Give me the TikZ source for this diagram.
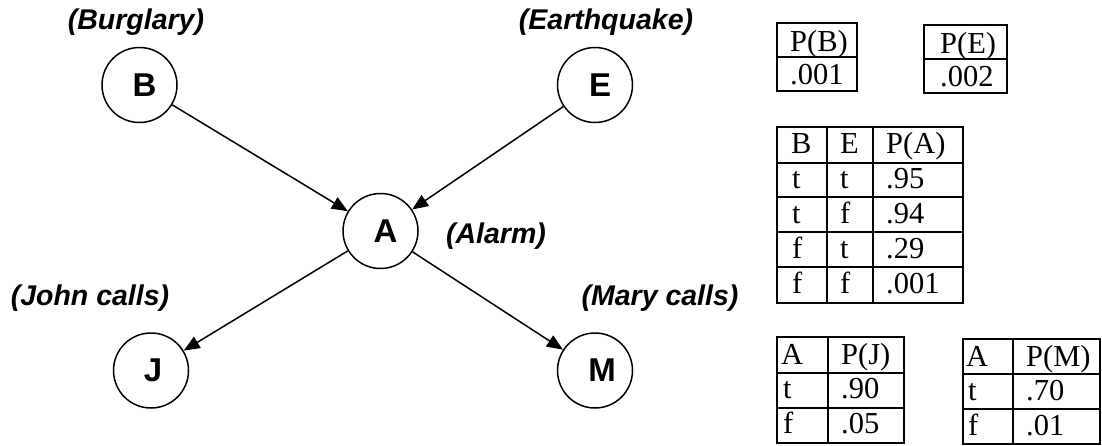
\documentclass[tikz,border=0pt]{standalone}
\usepackage{fontspec}
\setmainfont{Liberation Serif}
\newfontfamily\arial{Liberation Sans}
\usetikzlibrary{arrows.meta}
\newcommand\nodetext[2][10pt]{\hspace*{#1}\raisebox{-3pt}{#2}}
\tikzset{
  bnode/.style={circle, draw, line width=1.5pt, minimum size=75pt, inner sep=0pt,
    font=\arial\bfseries\fontsize{33}{33}\selectfont},
  blabel/.style={font=\arial\bfseries\itshape\fontsize{28.5}{28.5}\selectfont, inner sep=0pt},
  barrow/.style={line width=1.5pt, -{Triangle[length=16pt,width=13pt]}},
  tline/.style={line width=2pt},
  cell/.style={anchor=base west, inner sep=0pt, font=\fontsize{30.5}{30.5}\selectfont}
}
\begin{document}
\begin{tikzpicture}[x=1pt,y=-1pt]
\useasboundingbox (0,0) rectangle (1102,445);
% network
\node[bnode] (B) at (139.5,85) {\nodetext{B}};
\node[bnode] (E) at (595,85) {\nodetext{E}};
\node[bnode] (A) at (380.5,231) {\nodetext{A}};
\node[bnode] (J) at (151,370.5) {\nodetext[4pt]{J}};
\node[bnode] (M) at (595,370.5) {\nodetext[14pt]{M}};
\draw[barrow] (B) -- (A);
\draw[barrow] (E) -- (A);
\draw[barrow] (A) -- (J);
\draw[barrow] (A) -- (M);
\node[blabel] (lB) at (136,22) {(Burglary)};
\node[blabel] (lE) at (606,22) {(Earthquake)};
\node[blabel] (lA) at (496,236) {(Alarm)};
\node[blabel] (lJ) at (90,298) {(John calls)};
\node[blabel] (lM) at (660,298) {(Mary calls)};
% table P(B)
\draw[tline] (777,23) rectangle (857,91);
\draw[tline] (777,57) -- (857,57);
\node[cell] (pb1) at (790,51) {P(B)};
\node[cell] (pb2) at (790,84) {.001};
% table P(E)
\draw[tline] (924,25) rectangle (1007,93);
\draw[tline] (924,59) -- (1007,59);
\node[cell] (pe1) at (940,53) {P(E)};
\node[cell] (pe2) at (940,86) {.002};
% table P(A|B,E)
\draw[tline] (777,127) rectangle (963,303);
\foreach \yy in {163,197,232,267} \draw[tline] (777,\yy) -- (963,\yy);
\draw[tline] (827,127) -- (827,303);
\draw[tline] (873,127) -- (873,303);
\node[cell] (a11) at (791,153) {B};
\node[cell] (a12) at (840,153) {E};
\node[cell] (a13) at (886,153) {P(A)};
\node[cell] (a21) at (792,188) {t};
\node[cell] (a22) at (840,188) {t};
\node[cell] (a23) at (886,188) {.95};
\node[cell] (a31) at (792,223) {t};
\node[cell] (a32) at (840,223) {f};
\node[cell] (a33) at (886,223) {.94};
\node[cell] (a41) at (792,258) {f};
\node[cell] (a42) at (840,258) {t};
\node[cell] (a43) at (886,258) {.29};
\node[cell] (a51) at (792,293) {f};
\node[cell] (a52) at (840,293) {f};
\node[cell] (a53) at (886,293) {.001};
% table P(J|A)
\draw[tline] (777,337) rectangle (904,443);
\draw[tline] (777,373) -- (904,373);
\draw[tline] (777,408) -- (904,408);
\draw[tline] (828,337) -- (828,443);
\node[cell] (j11) at (781,364) {A};
\node[cell] (j12) at (841,364) {P(J)};
\node[cell] (j21) at (783,398) {t};
\node[cell] (j22) at (841,398) {.90};
\node[cell] (j31) at (783,433) {f};
\node[cell] (j32) at (841,433) {.05};
% table P(M|A)
\draw[tline] (963,339) rectangle (1100,444);
\draw[tline] (963,374) -- (1100,374);
\draw[tline] (963,409) -- (1100,409);
\draw[tline] (1013,339) -- (1013,444);
\node[cell] (m11) at (966,366) {A};
\node[cell] (m12) at (1026,366) {P(M)};
\node[cell] (m21) at (968,400) {t};
\node[cell] (m22) at (1026,400) {.70};
\node[cell] (m31) at (968,435) {f};
\node[cell] (m32) at (1026,435) {.01};
\end{tikzpicture}
\end{document}
